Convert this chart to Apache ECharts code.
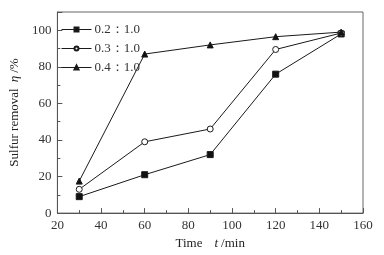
<!DOCTYPE html>
<html><head><meta charset="utf-8">
<script src="https://cdn.jsdelivr.net/npm/echarts@6/dist/echarts.min.js"></script>
<style>html,body{margin:0;padding:0;background:#fff}#c{width:384px;height:255px}</style>
</head><body><div id="c"></div>
<script>
const times = [30, 60, 90, 120, 150];
const seriesNames = ['0.2：1.0', '0.3：1.0', '0.4：1.0'];
const s02 = [9, 21, 32, 76, 98];
const s03 = [13, 39, 46, 89.5, 98.5];
const s04 = [17.5, 87, 92, 96.5, 99];
const yTicks = [0, 20, 40, 60, 80, 100];

const font = 'Liberation Serif';
const pair = (vals) => times.map((t, i) => [t, vals[i]]);
const mk = (name, vals, symbol, fill) => ({
  name, type: 'line', data: pair(vals), symbol, symbolSize: 6,
  lineStyle: { color: '#1a1a1a', width: 1 },
  itemStyle: { color: fill, borderColor: '#1a1a1a', borderWidth: 1 },
  emphasis: { disabled: true }, animation: false
});

const chart = echarts.init(document.getElementById('c'), null, { renderer: 'canvas' });
chart.setOption({
  animation: false,
  textStyle: { fontFamily: font },
  grid: { left: 47, right: 21, top: 12, bottom: 36, show: true, borderColor: '#666', borderWidth: 1 },
  legend: {
    orient: 'vertical', left: 56, top: 18, itemWidth: 30, itemHeight: 5, itemGap: 6,
    lineStyle: { width: 1 },
    textStyle: { fontFamily: font, fontSize: 13, color: '#333', padding: [0, 0, 0, -2] },
    data: seriesNames
  },
  xAxis: {
    type: 'value', min: 20, max: 160, interval: 20,
    name: '{a|Time}    {i|t} {a|/min}', nameLocation: 'middle', nameGap: 23,
    nameTextStyle: { rich: { a: { fontFamily: font, fontSize: 13, color: '#222' }, i: { fontFamily: font, fontStyle: 'italic', fontSize: 13, color: '#222' } } },
    axisLine: { lineStyle: { color: '#555' } },
    axisTick: { inside: true, length: 5, lineStyle: { color: '#555' } },
    minorTick: { show: true, splitNumber: 2, length: 3, lineStyle: { color: '#555' } },
    axisLabel: { fontFamily: font, fontSize: 13, color: '#333', margin: 6 },
    splitLine: { show: false }
  },
  yAxis: {
    type: 'value', min: 0, max: 110, interval: 20,
    name: '{a|Sulfur removal}  {i|η} {a|/%}', nameLocation: 'middle', nameGap: 28, nameRotate: 90,
    nameTextStyle: { rich: { a: { fontFamily: font, fontSize: 13, color: '#222' }, i: { fontFamily: font, fontStyle: 'italic', fontSize: 13, color: '#222' } } },
    axisLine: { show: true, lineStyle: { color: '#555' } },
    axisTick: { inside: true, length: 5, lineStyle: { color: '#555' } },
    minorTick: { show: true, splitNumber: 2, length: 3, lineStyle: { color: '#555' } },
    axisLabel: { fontFamily: font, fontSize: 13, color: '#333', margin: 6, showMaxLabel: false,
      formatter: v => yTicks.includes(v) ? String(v) : '' },
    splitLine: { show: false }
  },
  series: [
    mk(seriesNames[0], s02, 'rect', '#111'),
    mk(seriesNames[1], s03, 'circle', '#fff'),
    mk(seriesNames[2], s04, 'triangle', '#111')
  ]
});
</script></body></html>
